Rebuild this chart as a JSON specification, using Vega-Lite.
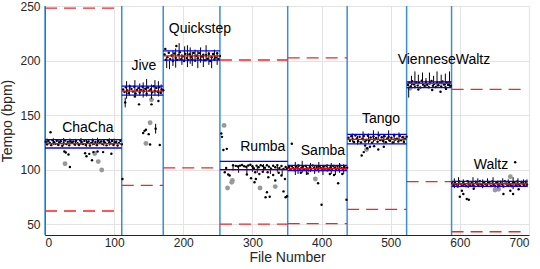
{
  "$schema": "https://vega.github.io/schema/vega-lite/v6.json",
  "width": 484,
  "height": 229,
  "autosize": {"type": "none"},
  "padding": {"left": 45, "top": 6, "right": 11, "bottom": 34},
  "background": "white",
  "config": {
    "view": {"stroke": null},
    "axis": {
      "labelFont": "Liberation Sans", "titleFont": "Liberation Sans",
      "labelFontSize": 12, "titleFontSize": 14, "titleFontWeight": "normal",
      "labelColor": "#262626", "titleColor": "#262626", "domainColor": "#262626",
      "gridColor": "#e3e3e3", "ticks": false, "grid": true
    },
    "axisX": {"labelPadding": 2, "titlePadding": 2},
    "axisY": {"labelPadding": 5, "titlePadding": 5}
  },
  "datasets": {
    "genres": [
      {"g": "ChaCha", "s": 0, "e": 111, "m": 123.8, "lo": 119.8, "hi": 127.5, "lx": 62, "ly": 138},
      {"g": "Jive", "s": 111, "e": 171, "m": 172, "lo": 168.3, "hi": 176.5, "lx": 143, "ly": 195},
      {"g": "Quickstep", "s": 171, "e": 253, "m": 204.2, "lo": 200.4, "hi": 208.8, "lx": 224, "ly": 229},
      {"g": "Rumba", "s": 253, "e": 351, "m": 100, "lo": 100, "hi": 107.6, "lx": 315, "ly": 121},
      {"g": "Samba", "s": 351, "e": 437, "m": 100.8, "lo": 99, "hi": 103.8, "lx": 402, "ly": 117},
      {"g": "Tango", "s": 437, "e": 523, "m": 127.6, "lo": 123.5, "hi": 132.2, "lx": 486, "ly": 146},
      {"g": "VienneseWaltz", "s": 523, "e": 588, "m": 179, "lo": 175.1, "hi": 180.4, "lx": 577, "ly": 200.5},
      {"g": "Waltz", "s": 588, "e": 698, "m": 87, "lo": 84.6, "hi": 89.2, "lx": 645, "ly": 104.5}
    ],
    "dash": [
      {"s": 0, "e": 111, "t": 248}, {"s": 0, "e": 111, "t": 62},
      {"s": 111, "e": 171, "t": 85.5},
      {"s": 171, "e": 253, "t": 101.5},
      {"s": 253, "e": 351, "t": 200.5}, {"s": 253, "e": 351, "t": 50},
      {"s": 351, "e": 437, "t": 202.5}, {"s": 351, "e": 437, "t": 50.5},
      {"s": 437, "e": 523, "t": 63.5},
      {"s": 523, "e": 588, "t": 89},
      {"s": 588, "e": 698, "t": 173.5}, {"s": 588, "e": 698, "t": 43}
    ],
    "grey": [
      {"f": 29, "t": 105.3}, {"f": 72, "t": 114.7}, {"f": 77, "t": 107.3}, {"f": 82, "t": 99.6},
      {"f": 152, "t": 143}, {"f": 146, "t": 124}, {"f": 154, "t": 164},
      {"f": 259, "t": 140.5}, {"f": 264, "t": 83.1}, {"f": 270, "t": 88.3}, {"f": 271, "t": 90}, {"f": 311, "t": 83.1}, {"f": 333, "t": 84.4},
      {"f": 391, "t": 91.4},
      {"f": 465, "t": 118.4},
      {"f": 528, "t": 174.5},
      {"f": 651, "t": 81.3}, {"f": 656, "t": 82}, {"f": 673, "t": 93.5}
    ],
    "bars": [
      {"f": 3, "lo": 122, "hi": 128.5}, {"f": 12, "lo": 122.5, "hi": 128.8}, {"f": 20, "lo": 121.5, "hi": 128}, {"f": 27, "lo": 122, "hi": 129}, {"f": 36, "lo": 123, "hi": 128.5}, {"f": 44, "lo": 121.8, "hi": 128.2}, {"f": 52, "lo": 122.5, "hi": 129}, {"f": 60, "lo": 121, "hi": 127.8}, {"f": 69, "lo": 122.2, "hi": 128.6}, {"f": 76, "lo": 122.8, "hi": 129.2}, {"f": 85, "lo": 121.5, "hi": 128}, {"f": 93, "lo": 122, "hi": 128.8}, {"f": 100, "lo": 122.6, "hi": 128.4},
      {"f": 116, "lo": 157, "hi": 166}, {"f": 118, "lo": 165, "hi": 181}, {"f": 122, "lo": 168, "hi": 178}, {"f": 130, "lo": 167, "hi": 182}, {"f": 137, "lo": 168, "hi": 179}, {"f": 142, "lo": 166, "hi": 180}, {"f": 147, "lo": 167, "hi": 183}, {"f": 154, "lo": 165, "hi": 178}, {"f": 159, "lo": 168, "hi": 182}, {"f": 160, "lo": 133, "hi": 142}, {"f": 164, "lo": 167, "hi": 181}, {"f": 168, "lo": 169, "hi": 178},
      {"f": 176, "lo": 193, "hi": 202}, {"f": 180, "lo": 192, "hi": 200}, {"f": 185, "lo": 195, "hi": 209}, {"f": 189, "lo": 193.5, "hi": 211}, {"f": 194, "lo": 200, "hi": 216}, {"f": 198, "lo": 196, "hi": 206}, {"f": 202, "lo": 199, "hi": 213}, {"f": 206, "lo": 194, "hi": 214}, {"f": 210, "lo": 197, "hi": 212}, {"f": 213, "lo": 195, "hi": 208}, {"f": 217, "lo": 200, "hi": 210}, {"f": 221, "lo": 193, "hi": 209}, {"f": 225, "lo": 198, "hi": 212}, {"f": 229, "lo": 194, "hi": 205}, {"f": 233, "lo": 199, "hi": 214}, {"f": 237, "lo": 196, "hi": 208}, {"f": 241, "lo": 193, "hi": 204}, {"f": 245, "lo": 200, "hi": 210}, {"f": 249, "lo": 196, "hi": 206},
      {"f": 272, "lo": 99, "hi": 104}, {"f": 280, "lo": 97, "hi": 104}, {"f": 292, "lo": 96, "hi": 103}, {"f": 300, "lo": 98, "hi": 104}, {"f": 307, "lo": 97, "hi": 103}, {"f": 316, "lo": 99, "hi": 105}, {"f": 326, "lo": 96, "hi": 102}, {"f": 336, "lo": 98, "hi": 104}, {"f": 343, "lo": 95, "hi": 101},
      {"f": 362, "lo": 95, "hi": 107}, {"f": 366, "lo": 96, "hi": 105}, {"f": 372, "lo": 97, "hi": 108}, {"f": 378, "lo": 95, "hi": 104}, {"f": 384, "lo": 98, "hi": 106}, {"f": 390, "lo": 96, "hi": 104}, {"f": 396, "lo": 97, "hi": 107}, {"f": 402, "lo": 95, "hi": 104}, {"f": 408, "lo": 98, "hi": 105}, {"f": 414, "lo": 96, "hi": 106}, {"f": 420, "lo": 95, "hi": 103}, {"f": 426, "lo": 97, "hi": 106}, {"f": 432, "lo": 96, "hi": 105},
      {"f": 445, "lo": 125, "hi": 133}, {"f": 452, "lo": 123, "hi": 131}, {"f": 460, "lo": 126, "hi": 135}, {"f": 468, "lo": 124, "hi": 133}, {"f": 475, "lo": 125, "hi": 136}, {"f": 482, "lo": 127, "hi": 135}, {"f": 490, "lo": 124, "hi": 132}, {"f": 497, "lo": 126, "hi": 136}, {"f": 505, "lo": 124, "hi": 133}, {"f": 512, "lo": 126, "hi": 134}, {"f": 519, "lo": 125, "hi": 131},
      {"f": 526, "lo": 166, "hi": 176}, {"f": 530, "lo": 177, "hi": 186}, {"f": 535, "lo": 176, "hi": 190}, {"f": 540, "lo": 178, "hi": 187}, {"f": 546, "lo": 177, "hi": 189}, {"f": 551, "lo": 176, "hi": 184}, {"f": 556, "lo": 178, "hi": 189}, {"f": 562, "lo": 177, "hi": 186}, {"f": 567, "lo": 176, "hi": 190}, {"f": 573, "lo": 178, "hi": 187}, {"f": 579, "lo": 177, "hi": 188}, {"f": 585, "lo": 176, "hi": 190},
      {"f": 592, "lo": 83, "hi": 92}, {"f": 598, "lo": 85, "hi": 93}, {"f": 605, "lo": 84, "hi": 91}, {"f": 612, "lo": 83, "hi": 90}, {"f": 619, "lo": 85, "hi": 93}, {"f": 626, "lo": 84, "hi": 92}, {"f": 633, "lo": 83, "hi": 91}, {"f": 640, "lo": 85, "hi": 92}, {"f": 648, "lo": 84, "hi": 93}, {"f": 655, "lo": 83, "hi": 90}, {"f": 662, "lo": 85, "hi": 92}, {"f": 670, "lo": 84, "hi": 91}, {"f": 677, "lo": 82, "hi": 93}, {"f": 684, "lo": 84, "hi": 92}, {"f": 692, "lo": 85, "hi": 91}, {"f": 697, "lo": 84, "hi": 91}
    ],
    "pts": [
      {"f": 1, "t": 125.5}, {"f": 3, "t": 123.2}, {"f": 5, "t": 126.2}, {"f": 7, "t": 124.4}, {"f": 9, "t": 122.4}, {"f": 11, "t": 126.8}, {"f": 13, "t": 125.1}, {"f": 15, "t": 123.7}, {"f": 17, "t": 126.5}, {"f": 19, "t": 122.8}, {"f": 21, "t": 124.8}, {"f": 23, "t": 125.9}, {"f": 25, "t": 121.9}, {"f": 27, "t": 124.2}, {"f": 29, "t": 126.6}, {"f": 31, "t": 123.4}, {"f": 33, "t": 125.4}, {"f": 35, "t": 122.2}, {"f": 37, "t": 126}, {"f": 39, "t": 124.6}, {"f": 41, "t": 125.7}, {"f": 43, "t": 123}, {"f": 45, "t": 126.4}, {"f": 47, "t": 124.1}, {"f": 49, "t": 122.6}, {"f": 51, "t": 126.6}, {"f": 53, "t": 125.3}, {"f": 55, "t": 123.5}, {"f": 57, "t": 126.3}, {"f": 59, "t": 122.5}, {"f": 61, "t": 124.9}, {"f": 63, "t": 125.7}, {"f": 65, "t": 122.1}, {"f": 67, "t": 124.5}, {"f": 69, "t": 126.4}, {"f": 71, "t": 123.6}, {"f": 73, "t": 125.2}, {"f": 75, "t": 122.4}, {"f": 77, "t": 126.2}, {"f": 79, "t": 124.3}, {"f": 81, "t": 125.8}, {"f": 83, "t": 123.4}, {"f": 85, "t": 126}, {"f": 87, "t": 124.6}, {"f": 89, "t": 122.2}, {"f": 91, "t": 126.9}, {"f": 93, "t": 125}, {"f": 95, "t": 123.9}, {"f": 97, "t": 126.3}, {"f": 99, "t": 122.6}, {"f": 101, "t": 124.7}, {"f": 103, "t": 125.6}, {"f": 105, "t": 122}, {"f": 107, "t": 124.4}, {"f": 109, "t": 126.5}, {"f": 111, "t": 123.3},
      {"f": 8, "t": 134.3}, {"f": 28, "t": 116.6}, {"f": 30, "t": 115.7}, {"f": 34, "t": 113.8}, {"f": 36, "t": 102.3}, {"f": 58, "t": 115}, {"f": 60, "t": 112.3}, {"f": 64, "t": 114.4}, {"f": 68, "t": 108.5}, {"f": 70, "t": 116}, {"f": 76, "t": 116.5}, {"f": 84, "t": 116}, {"f": 96, "t": 114.5},
      {"f": 113, "t": 173.5}, {"f": 115, "t": 171.2}, {"f": 117, "t": 175.4}, {"f": 119, "t": 172.6}, {"f": 121, "t": 170.1}, {"f": 123, "t": 176.2}, {"f": 125, "t": 173.8}, {"f": 127, "t": 171.5}, {"f": 129, "t": 175.9}, {"f": 131, "t": 169.8}, {"f": 133, "t": 172.9}, {"f": 135, "t": 174.7}, {"f": 137, "t": 170.6}, {"f": 139, "t": 173.1}, {"f": 141, "t": 176}, {"f": 143, "t": 171.9}, {"f": 145, "t": 174.2}, {"f": 147, "t": 169.5}, {"f": 149, "t": 175.3}, {"f": 151, "t": 172.4}, {"f": 153, "t": 173.6}, {"f": 155, "t": 170.8}, {"f": 157, "t": 176.4}, {"f": 159, "t": 172.1}, {"f": 161, "t": 174.9}, {"f": 163, "t": 171.3}, {"f": 165, "t": 175.6}, {"f": 167, "t": 170.4}, {"f": 169, "t": 173.4}, {"f": 171, "t": 172.8},
      {"f": 112, "t": 91.4}, {"f": 116, "t": 161.5}, {"f": 130, "t": 167}, {"f": 136, "t": 159.8}, {"f": 154, "t": 159.8}, {"f": 164, "t": 162.8}, {"f": 142, "t": 133.5}, {"f": 144, "t": 135.5}, {"f": 146, "t": 136.5}, {"f": 150, "t": 132.5}, {"f": 160, "t": 137.5}, {"f": 152, "t": 123}, {"f": 166, "t": 122.5},
      {"f": 173, "t": 205.5}, {"f": 175, "t": 200.8}, {"f": 177, "t": 203.1}, {"f": 179, "t": 207.2}, {"f": 181, "t": 201.3}, {"f": 183, "t": 204.6}, {"f": 185, "t": 199.8}, {"f": 187, "t": 206.4}, {"f": 189, "t": 202.5}, {"f": 191, "t": 200.6}, {"f": 193, "t": 205.2}, {"f": 195, "t": 207.6}, {"f": 197, "t": 201.1}, {"f": 199, "t": 203.8}, {"f": 201, "t": 199.5}, {"f": 203, "t": 206.1}, {"f": 205, "t": 202.2}, {"f": 207, "t": 200.4}, {"f": 209, "t": 205.7}, {"f": 211, "t": 203.4}, {"f": 213, "t": 201}, {"f": 215, "t": 207}, {"f": 217, "t": 199.9}, {"f": 219, "t": 204.3}, {"f": 221, "t": 202}, {"f": 223, "t": 206.8}, {"f": 225, "t": 200.7}, {"f": 227, "t": 203.6}, {"f": 229, "t": 205.4}, {"f": 231, "t": 200.2}, {"f": 233, "t": 204.9}, {"f": 235, "t": 201.7}, {"f": 237, "t": 206.3}, {"f": 239, "t": 199.6}, {"f": 241, "t": 203}, {"f": 243, "t": 205.9}, {"f": 245, "t": 200.9}, {"f": 247, "t": 202.8}, {"f": 249, "t": 206.6}, {"f": 251, "t": 201.4}, {"f": 253, "t": 204.1},
      {"f": 174, "t": 210.5}, {"f": 190, "t": 213.4},
      {"f": 262, "t": 101.5}, {"f": 272, "t": 104}, {"f": 276, "t": 103.4}, {"f": 279, "t": 102.8}, {"f": 282, "t": 103.6}, {"f": 285, "t": 104.2}, {"f": 288, "t": 103.1}, {"f": 291, "t": 102.5}, {"f": 294, "t": 103.8}, {"f": 297, "t": 104.5}, {"f": 300, "t": 103}, {"f": 302, "t": 101.2}, {"f": 306, "t": 103.6}, {"f": 309, "t": 102.2}, {"f": 312, "t": 104}, {"f": 315, "t": 103.3}, {"f": 318, "t": 101.6}, {"f": 321, "t": 103.9}, {"f": 324, "t": 102.7}, {"f": 327, "t": 100.8}, {"f": 330, "t": 103.5}, {"f": 333, "t": 102.1}, {"f": 336, "t": 104.1}, {"f": 339, "t": 101.4}, {"f": 342, "t": 103.2}, {"f": 345, "t": 100.6}, {"f": 348, "t": 102.4}, {"f": 350, "t": 101},
      {"f": 255, "t": 133}, {"f": 256, "t": 130}, {"f": 258, "t": 118}, {"f": 263, "t": 119}, {"f": 260, "t": 97.5}, {"f": 265, "t": 95.4}, {"f": 267, "t": 94.5}, {"f": 292, "t": 95.4}, {"f": 304, "t": 97.5}, {"f": 305, "t": 91.4}, {"f": 303, "t": 88.3}, {"f": 321, "t": 79.2}, {"f": 325, "t": 75.1}, {"f": 319, "t": 74.6}, {"f": 322, "t": 97.5}, {"f": 323, "t": 93}, {"f": 333, "t": 90}, {"f": 338, "t": 97}, {"f": 342, "t": 94.5}, {"f": 345, "t": 80}, {"f": 347, "t": 91.4}, {"f": 348, "t": 74.6}, {"f": 350, "t": 75.5}, {"f": 298, "t": 92}, {"f": 310, "t": 96}, {"f": 315, "t": 98}, {"f": 330, "t": 95},
      {"f": 353, "t": 102.3}, {"f": 355, "t": 100.4}, {"f": 357, "t": 103.1}, {"f": 359, "t": 101.2}, {"f": 361, "t": 99.6}, {"f": 363, "t": 102.8}, {"f": 365, "t": 100.9}, {"f": 367, "t": 103.5}, {"f": 369, "t": 99.9}, {"f": 371, "t": 101.8}, {"f": 373, "t": 102.6}, {"f": 375, "t": 100.2}, {"f": 377, "t": 103.3}, {"f": 379, "t": 101.1}, {"f": 381, "t": 99.4}, {"f": 383, "t": 102.1}, {"f": 385, "t": 100.7}, {"f": 387, "t": 103.7}, {"f": 389, "t": 101.5}, {"f": 391, "t": 99.8}, {"f": 393, "t": 102.4}, {"f": 395, "t": 100.5}, {"f": 397, "t": 103}, {"f": 399, "t": 101.3}, {"f": 401, "t": 99.5}, {"f": 403, "t": 102.9}, {"f": 405, "t": 100.8}, {"f": 407, "t": 103.4}, {"f": 409, "t": 101}, {"f": 411, "t": 99.7}, {"f": 413, "t": 102.2}, {"f": 415, "t": 100.3}, {"f": 417, "t": 103.2}, {"f": 419, "t": 101.6}, {"f": 421, "t": 99.9}, {"f": 423, "t": 102.7}, {"f": 425, "t": 100.6}, {"f": 427, "t": 103.6}, {"f": 429, "t": 101.4}, {"f": 431, "t": 100}, {"f": 433, "t": 102.5}, {"f": 435, "t": 100.9}, {"f": 437, "t": 101.7},
      {"f": 357, "t": 123.6}, {"f": 395, "t": 87.4}, {"f": 400, "t": 67.8}, {"f": 424, "t": 87.4}, {"f": 436, "t": 72.4}, {"f": 412, "t": 96}, {"f": 418, "t": 95}, {"f": 430, "t": 96}, {"f": 380, "t": 96.5}, {"f": 370, "t": 97},
      {"f": 439, "t": 129.1}, {"f": 441, "t": 126.4}, {"f": 443, "t": 130.6}, {"f": 445, "t": 127.8}, {"f": 447, "t": 125.2}, {"f": 449, "t": 131.3}, {"f": 451, "t": 128.5}, {"f": 453, "t": 126}, {"f": 455, "t": 130.1}, {"f": 457, "t": 124.9}, {"f": 459, "t": 128.2}, {"f": 461, "t": 130.8}, {"f": 463, "t": 125.8}, {"f": 465, "t": 127.2}, {"f": 467, "t": 131}, {"f": 469, "t": 126.7}, {"f": 471, "t": 129.4}, {"f": 473, "t": 124.6}, {"f": 475, "t": 130.3}, {"f": 477, "t": 127.5}, {"f": 479, "t": 128.9}, {"f": 481, "t": 125.5}, {"f": 483, "t": 131.5}, {"f": 485, "t": 127}, {"f": 487, "t": 129.7}, {"f": 489, "t": 126.2}, {"f": 491, "t": 130.5}, {"f": 493, "t": 125}, {"f": 495, "t": 128.6}, {"f": 497, "t": 130}, {"f": 499, "t": 126.5}, {"f": 501, "t": 129.2}, {"f": 503, "t": 124.8}, {"f": 505, "t": 131.2}, {"f": 507, "t": 127.6}, {"f": 509, "t": 128.3}, {"f": 511, "t": 125.7}, {"f": 513, "t": 130.9}, {"f": 515, "t": 126.9}, {"f": 517, "t": 129.6}, {"f": 519, "t": 125.3}, {"f": 521, "t": 128.1}, {"f": 523, "t": 130.2},
      {"f": 458, "t": 112.9}, {"f": 461, "t": 116}, {"f": 470, "t": 121}, {"f": 482, "t": 118.4}, {"f": 463, "t": 122}, {"f": 466, "t": 119.5}, {"f": 476, "t": 121.5}, {"f": 490, "t": 121},
      {"f": 525, "t": 177.5}, {"f": 527, "t": 179.8}, {"f": 529, "t": 176.1}, {"f": 531, "t": 181}, {"f": 533, "t": 178.3}, {"f": 535, "t": 175.6}, {"f": 537, "t": 180.2}, {"f": 539, "t": 177}, {"f": 541, "t": 179.4}, {"f": 543, "t": 175.2}, {"f": 545, "t": 181.4}, {"f": 547, "t": 178}, {"f": 549, "t": 176.6}, {"f": 551, "t": 180.6}, {"f": 553, "t": 177.8}, {"f": 555, "t": 175.4}, {"f": 557, "t": 179.1}, {"f": 559, "t": 181.2}, {"f": 561, "t": 176.8}, {"f": 563, "t": 178.6}, {"f": 565, "t": 175.8}, {"f": 567, "t": 180}, {"f": 569, "t": 177.3}, {"f": 571, "t": 179.6}, {"f": 573, "t": 176.2}, {"f": 575, "t": 180.8}, {"f": 577, "t": 178.1}, {"f": 579, "t": 175.5}, {"f": 581, "t": 179.9}, {"f": 583, "t": 177.6}, {"f": 585, "t": 180.4}, {"f": 587, "t": 176.9},
      {"f": 572, "t": 171.4}, {"f": 540, "t": 173.5}, {"f": 560, "t": 173}, {"f": 580, "t": 174},
      {"f": 589, "t": 87.5}, {"f": 591, "t": 85.6}, {"f": 593, "t": 88.7}, {"f": 595, "t": 86.3}, {"f": 597, "t": 84.4}, {"f": 599, "t": 89.1}, {"f": 601, "t": 86.9}, {"f": 603, "t": 85.1}, {"f": 605, "t": 88.2}, {"f": 607, "t": 86.6}, {"f": 609, "t": 84.8}, {"f": 611, "t": 89.4}, {"f": 613, "t": 87.2}, {"f": 615, "t": 85.4}, {"f": 617, "t": 88.5}, {"f": 619, "t": 86.1}, {"f": 621, "t": 84.6}, {"f": 623, "t": 88.9}, {"f": 625, "t": 87}, {"f": 627, "t": 85.8}, {"f": 629, "t": 89.2}, {"f": 631, "t": 86.4}, {"f": 633, "t": 84.9}, {"f": 635, "t": 88}, {"f": 637, "t": 86.8}, {"f": 639, "t": 85.2}, {"f": 641, "t": 88.6}, {"f": 643, "t": 87.4}, {"f": 645, "t": 85}, {"f": 647, "t": 89}, {"f": 649, "t": 86.2}, {"f": 651, "t": 84.7}, {"f": 653, "t": 88.3}, {"f": 655, "t": 87.1}, {"f": 657, "t": 85.5}, {"f": 659, "t": 88.8}, {"f": 661, "t": 86.5}, {"f": 663, "t": 84.5}, {"f": 665, "t": 89.3}, {"f": 667, "t": 87.3}, {"f": 669, "t": 85.3}, {"f": 671, "t": 88.4}, {"f": 673, "t": 86}, {"f": 675, "t": 84.8}, {"f": 677, "t": 88.1}, {"f": 679, "t": 87.6}, {"f": 681, "t": 85.7}, {"f": 683, "t": 89}, {"f": 685, "t": 86.7}, {"f": 687, "t": 85.1}, {"f": 689, "t": 88.6}, {"f": 691, "t": 87.2}, {"f": 693, "t": 85.6}, {"f": 695, "t": 88.9}, {"f": 697, "t": 86.3},
      {"f": 680, "t": 106.7}, {"f": 600, "t": 75}, {"f": 603, "t": 80.6}, {"f": 605, "t": 77.6}, {"f": 610, "t": 73}, {"f": 613, "t": 72.4}, {"f": 663, "t": 77.6}, {"f": 673, "t": 80.5}, {"f": 677, "t": 77.6}, {"f": 685, "t": 82}, {"f": 620, "t": 82.5}
    ]
  },
  "layer": [
    {
      "data": {"name": "genres"},
      "mark": {"type": "rule", "color": "#3b8ed6", "strokeWidth": 1.5},
      "encoding": {
        "x": {"field": "s", "type": "quantitative", "scale": {"domain": [0, 700]}, "axis": {"title": "File Number", "values": [0, 100, 200, 300, 400, 500, 600, 700]}}
      }
    },
    {
      "data": {"name": "dash"},
      "mark": {"type": "rule", "color": "#ff2020", "strokeWidth": 1.3, "strokeDash": [12, 7]},
      "encoding": {
        "x": {"field": "s", "type": "quantitative", "scale": {"domain": [0, 700]}, "axis": {"title": "File Number", "values": [0, 100, 200, 300, 400, 500, 600, 700]}},
        "x2": {"field": "e"},
        "y": {"field": "t", "type": "quantitative", "scale": {"domain": [40, 250]}, "axis": {"title": "Tempo (bpm)", "values": [50, 100, 150, 200, 250]}}
      }
    },
    {
      "data": {"name": "grey"},
      "mark": {"type": "point", "filled": true, "color": "#999999", "opacity": 1, "size": 24},
      "encoding": {
        "x": {"field": "f", "type": "quantitative", "scale": {"domain": [0, 700]}, "axis": {"title": "File Number", "values": [0, 100, 200, 300, 400, 500, 600, 700]}},
        "y": {"field": "t", "type": "quantitative", "scale": {"domain": [40, 250]}, "axis": {"title": "Tempo (bpm)", "values": [50, 100, 150, 200, 250]}}
      }
    },
    {
      "data": {"name": "bars"},
      "mark": {"type": "rule", "color": "#000000", "strokeWidth": 1},
      "encoding": {
        "x": {"field": "f", "type": "quantitative", "scale": {"domain": [0, 700]}, "axis": {"title": "File Number", "values": [0, 100, 200, 300, 400, 500, 600, 700]}},
        "y": {"field": "lo", "type": "quantitative", "scale": {"domain": [40, 250]}, "axis": {"title": "Tempo (bpm)", "values": [50, 100, 150, 200, 250]}},
        "y2": {"field": "hi"}
      }
    },
    {
      "data": {"name": "pts"},
      "mark": {"type": "point", "filled": true, "color": "#000000", "opacity": 1, "size": 6},
      "encoding": {
        "x": {"field": "f", "type": "quantitative", "scale": {"domain": [0, 700]}, "axis": {"title": "File Number", "values": [0, 100, 200, 300, 400, 500, 600, 700]}},
        "y": {"field": "t", "type": "quantitative", "scale": {"domain": [40, 250]}, "axis": {"title": "Tempo (bpm)", "values": [50, 100, 150, 200, 250]}}
      }
    },
    {
      "data": {"name": "genres"},
      "mark": {"type": "rule", "color": "#ff0000", "strokeWidth": 1.3},
      "encoding": {
        "x": {"field": "s", "type": "quantitative", "scale": {"domain": [0, 700]}, "axis": {"title": "File Number", "values": [0, 100, 200, 300, 400, 500, 600, 700]}},
        "x2": {"field": "e"},
        "y": {"field": "m", "type": "quantitative", "scale": {"domain": [40, 250]}, "axis": {"title": "Tempo (bpm)", "values": [50, 100, 150, 200, 250]}}
      }
    },
    {
      "data": {"name": "genres"},
      "mark": {"type": "rule", "color": "#0000ff", "strokeWidth": 1.3},
      "encoding": {
        "x": {"field": "s", "type": "quantitative", "scale": {"domain": [0, 700]}, "axis": {"title": "File Number", "values": [0, 100, 200, 300, 400, 500, 600, 700]}},
        "x2": {"field": "e"},
        "y": {"field": "lo", "type": "quantitative", "scale": {"domain": [40, 250]}, "axis": {"title": "Tempo (bpm)", "values": [50, 100, 150, 200, 250]}}
      }
    },
    {
      "data": {"name": "genres"},
      "mark": {"type": "rule", "color": "#0000ff", "strokeWidth": 1.3},
      "encoding": {
        "x": {"field": "s", "type": "quantitative", "scale": {"domain": [0, 700]}, "axis": {"title": "File Number", "values": [0, 100, 200, 300, 400, 500, 600, 700]}},
        "x2": {"field": "e"},
        "y": {"field": "hi", "type": "quantitative", "scale": {"domain": [40, 250]}, "axis": {"title": "Tempo (bpm)", "values": [50, 100, 150, 200, 250]}}
      }
    },
    {
      "data": {"name": "genres"},
      "mark": {"type": "text", "font": "Liberation Sans", "fontSize": 14, "color": "#000000", "align": "center", "baseline": "middle"},
      "encoding": {
        "x": {"field": "lx", "type": "quantitative", "scale": {"domain": [0, 700]}, "axis": {"title": "File Number", "values": [0, 100, 200, 300, 400, 500, 600, 700]}},
        "y": {"field": "ly", "type": "quantitative", "scale": {"domain": [40, 250]}, "axis": {"title": "Tempo (bpm)", "values": [50, 100, 150, 200, 250]}},
        "text": {"field": "g"}
      }
    }
  ]
}
